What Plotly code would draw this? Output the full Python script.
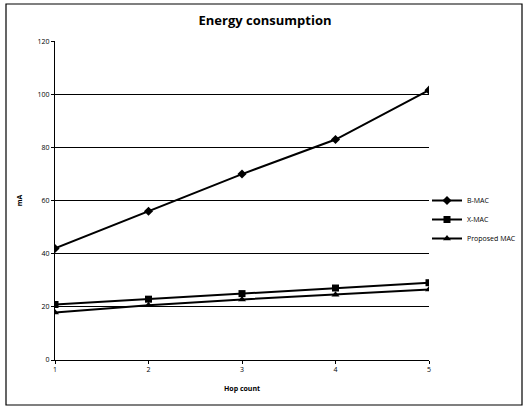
import plotly.graph_objects as go

hop_count = [1, 2, 3, 4, 5]
b_mac = [42, 56, 70, 83, 101.6]
x_mac = [20.9, 22.9, 25, 27.1, 29.1]
proposed_mac = [17.9, 20.6, 22.8, 24.6, 26.5]
y_ticks = [0, 20, 40, 60, 80, 100, 120]

W, H = 527, 407
L, R = 55, 429
T, B = 41, 360

fig = go.Figure()
series = [("B-MAC", b_mac, "diamond", 7), ("X-MAC", x_mac, "square", 7), ("Proposed MAC", proposed_mac, "triangle-up", 7)]
for name, vals, sym, sz in series:
    fig.add_trace(go.Scatter(x=hop_count, y=vals, name=name, mode="lines+markers",
                             line=dict(color="black", width=2),
                             marker=dict(symbol=sym, size=sz, color="black")))

def px_to_paper_x(px):
    return (px - L) / (R - L)

def px_to_paper_y(py):
    return (B - py) / (B - T)

fig.add_shape(type="rect", xref="paper", yref="paper",
              x0=px_to_paper_x(6), x1=px_to_paper_x(522),
              y0=px_to_paper_y(405), y1=px_to_paper_y(4),
              line=dict(color="black", width=1.2), layer="above")

fig.update_layout(
    width=W, height=H,
    margin=dict(l=L, r=W - R, t=T, b=H - B, pad=0, autoexpand=False),
    paper_bgcolor="white", plot_bgcolor="white",
    font=dict(family="Open Sans", color="black", size=7),
    title=dict(text="<b>Energy consumption</b>", x=265 / W, xref="container", xanchor="center",
               y=1 - 20 / H, yref="container", yanchor="middle", font=dict(size=13, family="Open Sans")),
    showlegend=True,
    legend=dict(x=427 / W, y=1 - 186 / H, xref="container", yref="container", xanchor="left", yanchor="top",
                font=dict(size=7), tracegroupgap=0, itemwidth=30, bgcolor="rgba(0,0,0,0)"),
    xaxis=dict(range=[1, 5], tickvals=hop_count, showgrid=False, showline=True, linecolor="black",
               linewidth=1, ticks="outside", ticklen=3, tickcolor="black", zeroline=False, automargin=False,
               title=dict(text="<b>Hop count</b>", font=dict(size=7), standoff=12),
               tickfont=dict(size=7)),
    yaxis=dict(range=[0, 120.1], tickvals=y_ticks, showgrid=True, gridcolor="black", gridwidth=1,
               showline=True, linecolor="black", linewidth=1, ticks="outside", ticklen=3,
               tickcolor="black", zeroline=False, automargin=False,
               title=dict(text="<b>mA</b>", font=dict(size=7), standoff=14),
               tickfont=dict(size=7)),
)

fig.write_html("out.html", config={"displayModeBar": False},
               post_script="document.body.style.margin='0px';")
